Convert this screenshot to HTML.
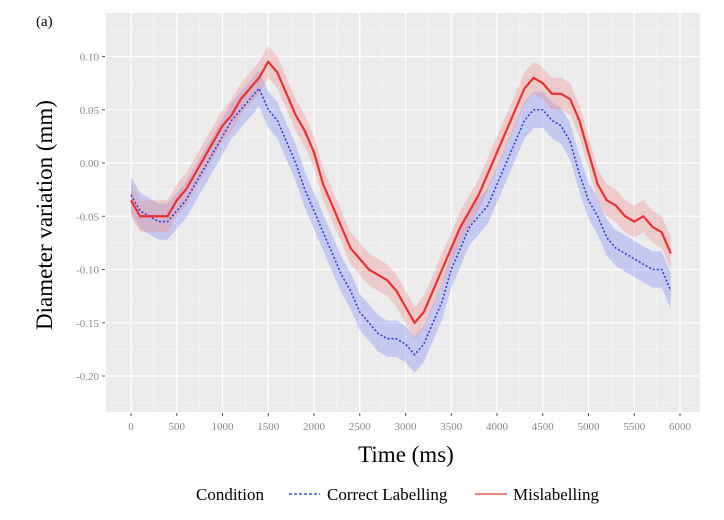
<!DOCTYPE html>
<html><head><meta charset="utf-8"><style>
body{margin:0;background:#fff;width:724px;height:515px;overflow:hidden;font-family:"Liberation Serif",serif;}
</style></head><body>
<svg id="chart" width="724" height="515" xmlns="http://www.w3.org/2000/svg">
<text x="36" y="26" font-size="15" font-family="Liberation Serif, serif">(a)</text>
<rect x="106" y="13" width="594" height="399" fill="#ebebeb"/>
<g id="grid"></g><g id="series"></g><g id="axes"></g>
<text x="406" y="462" text-anchor="middle" font-size="23">Time (ms)</text>
<text transform="translate(52,215) rotate(-90)" text-anchor="middle" font-size="23">Diameter variation (mm)</text>
<g font-size="17">
<text x="196" y="500">Condition</text>
<line x1="289" y1="494" x2="320" y2="494" stroke="#2a5bd7" stroke-width="1.6" stroke-dasharray="3,2"/>
<text x="327" y="500">Correct Labelling</text>
<line x1="475" y1="494" x2="507" y2="494" stroke="#f08080" stroke-width="2"/>
<text x="513" y="500">Mislabelling</text>
</g>
</svg>
<script>
const times=[0,100,200,300,400,500,600,700,800,900,1000,1100,1200,1300,1400,1500,1600,1700,1800,1900,2000,2100,2200,2300,2400,2500,2600,2700,2800,2900,3000,3100,3200,3300,3400,3500,3600,3700,3800,3900,4000,4100,4200,4300,4400,4500,4600,4700,4800,4900,5000,5100,5200,5300,5400,5500,5600,5700,5800,5900];
const correctValues=[-0.03,-0.045,-0.05,-0.055,-0.055,-0.045,-0.035,-0.02,-0.005,0.01,0.025,0.04,0.05,0.06,0.07,0.05,0.04,0.02,0.0,-0.025,-0.045,-0.065,-0.085,-0.105,-0.12,-0.14,-0.15,-0.16,-0.165,-0.165,-0.17,-0.18,-0.17,-0.15,-0.13,-0.1,-0.08,-0.06,-0.05,-0.04,-0.02,0.0,0.02,0.04,0.05,0.05,0.04,0.035,0.02,-0.01,-0.035,-0.05,-0.07,-0.08,-0.085,-0.09,-0.095,-0.1,-0.1,-0.12];
const misValues=[-0.035,-0.05,-0.05,-0.05,-0.05,-0.035,-0.025,-0.01,0.005,0.02,0.035,0.045,0.06,0.07,0.08,0.095,0.085,0.065,0.045,0.03,0.01,-0.02,-0.04,-0.06,-0.08,-0.09,-0.1,-0.105,-0.11,-0.12,-0.135,-0.15,-0.14,-0.12,-0.1,-0.08,-0.06,-0.045,-0.03,-0.01,0.01,0.03,0.05,0.07,0.08,0.075,0.065,0.065,0.06,0.04,0.01,-0.02,-0.035,-0.04,-0.05,-0.055,-0.05,-0.06,-0.065,-0.085];
const correctSE=0.017, misSE=0.015;
const xTicks=[0,500,1000,1500,2000,2500,3000,3500,4000,4500,5000,5500,6000];
const yTicks=[0.10,0.05,0.00,-0.05,-0.10,-0.15,-0.20];
const yTickLabels=["0.10","0.05","0.00","-0.05","-0.10","-0.15","-0.20"];
const X=t=>131+t*(549/6000);
const Y=v=>163-v*(106.5/0.1);
const NS="http://www.w3.org/2000/svg";
function mk(tag,attrs,parent){const e=document.createElementNS(NS,tag);for(const k in attrs)e.setAttribute(k,attrs[k]);parent.appendChild(e);return e;}
const grid=document.getElementById('grid'),axes=document.getElementById('axes'),series=document.getElementById('series');
xTicks.forEach((t,i)=>{
 if(i<xTicks.length-1){const m=mk('line',{x1:X(t+250),x2:X(t+250),y1:13,y2:412,stroke:'#f5f5f5','stroke-width':0.8},grid);
 
 }
 const g=mk('line',{x1:X(t),x2:X(t),y1:13,y2:412,stroke:'#fff','stroke-width':1.3},grid);
 
 
 const tk=mk('line',{x1:X(t),x2:X(t),y1:413,y2:416,stroke:'#555','stroke-width':1},axes);
 
 
 const tx=mk('text',{x:X(t),y:430,'text-anchor':'middle','font-size':11,fill:'#888'},axes);
 tx.textContent=t;
 
 
});
[0.125,0.075,0.025,-0.025,-0.075,-0.125,-0.175,-0.225].forEach(v=>{
 const m=mk('line',{x1:106,x2:700,y1:Y(v),y2:Y(v),stroke:'#f5f5f5','stroke-width':0.8},grid);
 
 
});
yTicks.forEach((v,i)=>{
 const g=mk('line',{x1:106,x2:700,y1:Y(v),y2:Y(v),stroke:'#fff','stroke-width':1.3},grid);
 
 
 const tk=mk('line',{x1:102,x2:105,y1:Y(v),y2:Y(v),stroke:'#555','stroke-width':1},axes);
 
 
 const tx=mk('text',{x:99,y:Y(v)+4,'text-anchor':'end','font-size':11,fill:'#888'},axes);
 tx.textContent=yTickLabels[i];
 
 
});
function ribbon(vals,se,fill,name){
 let d='M'+times.map((t,i)=>X(t)+','+Y(vals[i]+se)).join('L');
 d+='L'+times.slice().reverse().map((t,j)=>{const i=times.length-1-j;return X(t)+','+Y(vals[i]-se);}).join('L')+'Z';
 const p=mk('path',{d:d,fill:fill,'fill-opacity':0.35},series);
 
 
}
function line(vals,color,dash,w,name){
 const p=mk('path',{d:'M'+times.map((t,i)=>X(t)+','+Y(vals[i])).join('L'),fill:'none',stroke:color,'stroke-width':w,'stroke-dasharray':dash},series);
 
 
}
ribbon(correctValues,correctSE,'#7b86f5','correct-ribbon');
ribbon(misValues,misSE,'#f28c8c','mislabelling-ribbon');
line(correctValues,'#2b3fd6','2,2',1.6,'correct-line');
line(misValues,'#ec3030','none',2.2,'mislabelling-line');
</script>
</body></html>
